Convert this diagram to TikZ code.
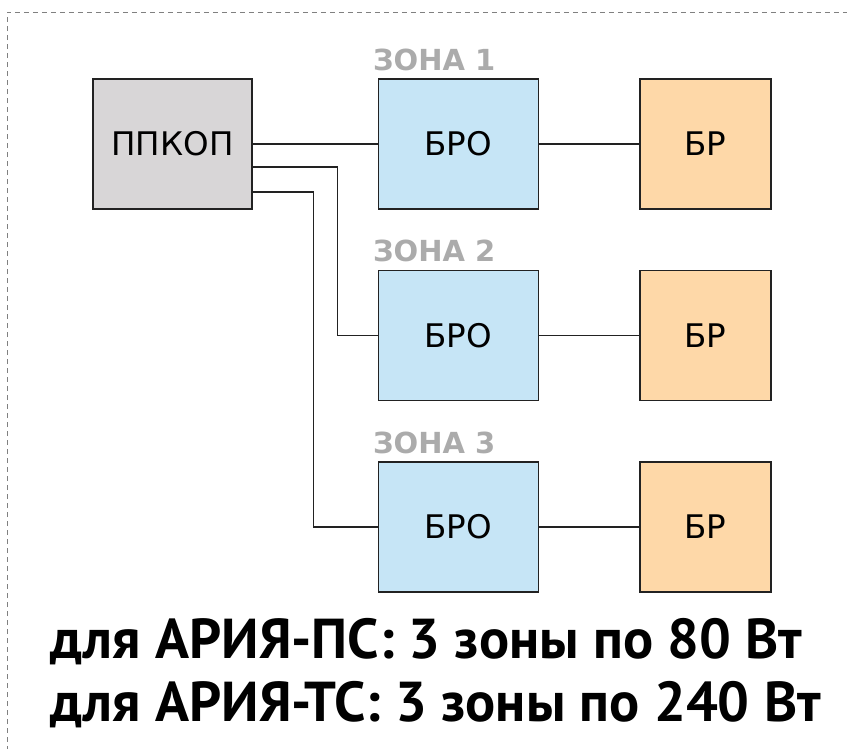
\documentclass[tikz,border=0pt]{standalone}
\usepackage{fontspec}
\setmainfont{PT Sans}
\newfontfamily\boxfont{DejaVu Sans}
\usetikzlibrary{positioning,calc}
\definecolor{BoxGrey}{HTML}{D8D6D7}
\definecolor{BroBlue}{HTML}{C6E5F6}
\definecolor{BrPeach}{HTML}{FED8A8}
\definecolor{ZoneGrey}{HTML}{ABABAB}
\definecolor{LineDark}{HTML}{222222}
\tikzset{unit/.style={draw=LineDark,line width=0.8pt,minimum height=2.6cm,font=\boxfont\fontsize{18.5}{22}\selectfont,inner sep=0pt}, ctrl/.style={unit,fill=BoxGrey,minimum width=3.18cm}, bro/.style={unit,fill=BroBlue,minimum width=3.2cm}, br/.style={unit,fill=BrPeach,minimum width=2.62cm}, zonelbl/.style={text=ZoneGrey,font=\boxfont\bfseries\fontsize{16.5}{18}\selectfont,inner sep=0pt,anchor=south west}, wire/.style={draw=LineDark,line width=0.8pt}, frame/.style={draw=gray,dash pattern=on 1mm off 0.8mm,line width=0.5pt}, note/.style={font=\bfseries\fontsize{32}{36}\selectfont,inner sep=0pt,anchor=west}}

\begin{document}
\begin{tikzpicture}[node distance=1.2cm and 2.5cm]
\useasboundingbox (0,0) rectangle (16.94,-14.98);
\draw[frame] (0.14,-15.2) -- (0.14,-0.24) -- (17.2,-0.24);
\node[ctrl] (ppkop) at (3.45,-2.88) {ППКОП};
\node[bro,right=of ppkop] (bro1) {БРО};
\node[bro,below=of bro1] (bro2) {БРО};
\node[bro,below=of bro2] (bro3) {БРО};
\foreach \i in {1,2,3}{
  \node[br,right=2cm of bro\i] (br\i) {БР};
  \node[zonelbl] (zone\i) at ([xshift=-1mm,yshift=1.4mm]bro\i.north west) {ЗОНА \i};
  \draw[wire] (bro\i) -- (br\i);
}
\draw[wire] (ppkop) -- (bro1);
\draw[wire] ([yshift=-4.6mm]ppkop.east) -- ++(1.7,0) |- (bro2);
\draw[wire] ([yshift=-9.6mm]ppkop.east) -- ++(1.22,0) |- (bro3);
\node[note] (note1) at (1.0,-12.84) {для АРИЯ-ПС: 3 зоны по 80 Вт};
\node[note] (note2) at (1.0,-14.1) {для АРИЯ-ТС: 3 зоны по 240 Вт};
\end{tikzpicture}
\end{document}
